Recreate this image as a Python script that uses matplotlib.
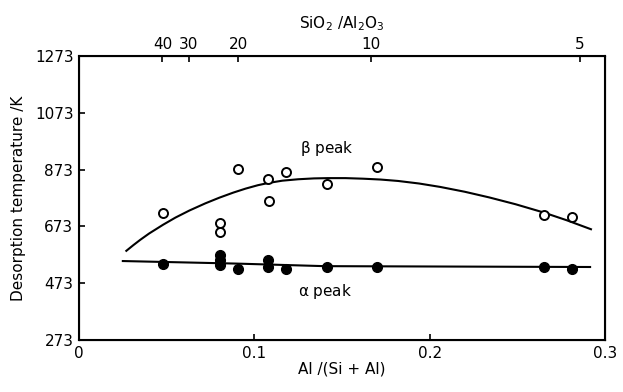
import numpy as np
import matplotlib
matplotlib.use("Agg")
import matplotlib.pyplot as plt

plt.rcParams["font.family"] = ["DejaVu Sans"]
plt.rcParams["mathtext.default"] = "regular"

# beta peak (open circles)
beta_x = [0.0477, 0.0909, 0.108, 0.118, 0.1086, 0.0804, 0.0804, 0.1416, 0.1698, 0.265, 0.281]
beta_y = [719, 875, 840, 865, 764, 684, 652, 821, 883, 712, 707]

# alpha peak (filled circles)
alpha_x = [0.0477, 0.0804, 0.0804, 0.0804, 0.0909, 0.108, 0.108, 0.118, 0.1416, 0.1698, 0.265, 0.281]
alpha_y = [541, 571, 553, 538, 524, 555, 529, 523, 531, 531, 531, 524]

# trend curves
beta_fit_x = [0.027, 0.031, 0.035, 0.040, 0.048, 0.055, 0.063, 0.072, 0.080, 0.088,
              0.095, 0.102, 0.108, 0.116, 0.125, 0.134, 0.142, 0.152, 0.162, 0.172,
              0.182, 0.194, 0.206, 0.220, 0.234, 0.249, 0.265, 0.278, 0.292]
beta_fit_y = [587, 607, 626, 648, 679, 704, 729, 754, 774, 792,
              806, 818, 826, 834, 839, 842, 843, 843, 841, 838,
              833, 824, 812, 795, 775, 751, 722, 695, 663]
alpha_fit_x = [0.025, 0.09, 0.14, 0.2915]
alpha_fit_y = [551, 542, 533, 530]

# top axis: SiO2/Al2O3 molar ratio
ratio_ticks = [40, 30, 20, 10, 5]

y_ticks = [273, 473, 673, 873, 1073, 1273]
x_ticks = [0, 0.1, 0.2, 0.3]
x_tick_labels = ["0", "0.1", "0.2", "0.3"]

fig = plt.figure(figsize=(6.23, 3.92), dpi=100)
ax = fig.add_axes([0.1268, 0.1327, 0.9711 - 0.1268, 0.8571 - 0.1327])

ax.plot(beta_fit_x, beta_fit_y, color="black", lw=1.5, zorder=2,
        solid_joinstyle="round")
ax.plot(alpha_fit_x, alpha_fit_y, color="black", lw=1.5, zorder=2)
ax.plot(beta_x, beta_y, "o", ms=6.5, mfc="white", mec="black", mew=1.4, zorder=3)
ax.plot(alpha_x, alpha_y, "o", ms=7, mfc="black", mec="black", zorder=3)

ax.text(0.1415, 949, r"$\beta$ peak", fontsize=11, ha="center", va="center")
ax.text(0.125, 445, r"$\alpha$ peak", fontsize=11, ha="left", va="center")

ax.set_xlim(0, 0.3)
ax.set_ylim(273, 1273)
ax.set_xticks(x_ticks)
ax.set_xticklabels(x_tick_labels)
ax.set_yticks(y_ticks)
ax.tick_params(direction="in", length=4, width=1.2, labelsize=11, pad=4)
ax.set_xlabel("Al /(Si + Al)", fontsize=11, labelpad=1)
ax.set_ylabel("Desorption temperature /K", fontsize=11, labelpad=6)
for s in ax.spines.values():
    s.set_linewidth(1.5)

top = ax.twiny()
top.set_xlim(0, 0.3)
top.set_xticks([2.0 / (2.0 + r) for r in ratio_ticks])
top.set_xticklabels([str(r) for r in ratio_ticks])
top.tick_params(direction="in", length=4, width=1.2, labelsize=11, pad=3)
top.set_xlabel(r"SiO$_2$ /Al$_2$O$_3$", fontsize=11, labelpad=6)

fig.savefig("out.png", dpi=100)
